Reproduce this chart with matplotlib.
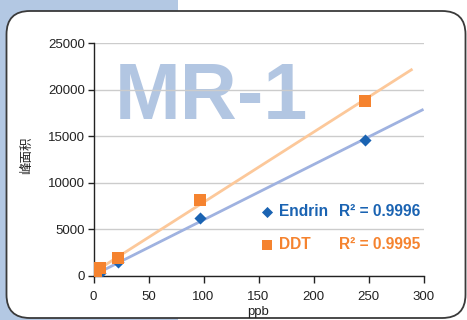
import matplotlib
matplotlib.use('Agg')
import matplotlib.pyplot as plt
import numpy as np
from matplotlib.patches import FancyBboxPatch, Rectangle

plt.rcParams['font.family'] = ['Liberation Sans', 'Noto Sans CJK SC', 'DejaVu Sans']

# data
endrin_ppb = [2.5, 6, 22.5, 97, 247]
endrin_area = [80, 350, 1450, 6200, 14600]
ddt_ppb = [2.5, 6, 22.5, 97, 247]
ddt_area = [450, 820, 1900, 8150, 18800]
endrin_r2 = 0.9996
ddt_r2 = 0.9995
xticks = [0, 50, 100, 150, 200, 250, 300]
yticks = [0, 5000, 10000, 15000, 20000, 25000]

BLUE_PT = '#1a63b2'
BLUE_LN = '#9fb2e0'
ORANGE_PT = '#f5832f'
ORANGE_LN = '#fcc89a'
BG_BLUE = '#b3c8e3'

fig = plt.figure(figsize=(4.67, 3.2), dpi=100)

# background decoration
fig.patches.append(Rectangle((0, 0), 178 / 467, 1, transform=fig.transFigure,
                             facecolor=BG_BLUE, edgecolor='none', zorder=-3))
fig.patches.append(FancyBboxPatch((6.5 / 467, 2 / 320), 459 / 467, 307 / 320,
                                  boxstyle='round,pad=0,rounding_size=0.05',
                                  mutation_aspect=467 / 320,
                                  transform=fig.transFigure, facecolor='white',
                                  edgecolor='#3a3a3a', linewidth=1.3, zorder=-2))

ax = fig.add_axes([93.5 / 467, 44 / 320, 330 / 467, 233 / 320])
ax.set_facecolor('none')

# watermark
ax.text(0.065, 0.675, 'MR-1', transform=ax.transAxes, fontsize=57, fontweight='bold',
        color='#9db6da', alpha=0.78, ha='left', va='baseline', zorder=0)

# trendlines
k1, b1 = np.polyfit(endrin_ppb, endrin_area, 1)
k2, b2 = np.polyfit(ddt_ppb, ddt_area, 1)
xl1 = np.array([0, 300])
xl2 = np.array([0, 290])
ax.plot(xl1, k1 * xl1 + b1, color=BLUE_LN, lw=2, zorder=2, solid_capstyle='butt')
ax.plot(xl2, k2 * xl2 + b2, color=ORANGE_LN, lw=2, zorder=2, solid_capstyle='butt')

ax.scatter(endrin_ppb, endrin_area, marker='D', s=38, color=BLUE_PT, zorder=3, linewidths=0)
ax.scatter(ddt_ppb, ddt_area, marker='s', s=70, color=ORANGE_PT, zorder=4, linewidths=0)

# legend-like labels
ax.scatter([157.5], [6870], marker='D', s=32, color=BLUE_PT, clip_on=False, linewidths=0)
ax.scatter([157.5], [3330], marker='s', s=60, color=ORANGE_PT, clip_on=False, linewidths=0)
ax.text(169, 6870, 'Endrin', color=BLUE_PT, fontsize=11.2, fontweight='bold', va='center')
ax.text(223, 6870, 'R\u00b2 = %.4f' % endrin_r2, color=BLUE_PT, fontsize=11.2,
        fontweight='bold', va='center')
ax.text(169, 3330, 'DDT', color=ORANGE_PT, fontsize=11.2, fontweight='bold', va='center')
ax.text(223, 3330, 'R\u00b2 = %.4f' % ddt_r2, color=ORANGE_PT, fontsize=11.2,
        fontweight='bold', va='center')

ax.set_xlim(0, 300)
ax.set_ylim(0, 25000)
ax.set_xticks(xticks)
ax.set_yticks(yticks)
ax.yaxis.grid(True, color='#cccccc', lw=1)
ax.set_axisbelow(True)
for s in ['top', 'right']:
    ax.spines[s].set_visible(False)
for s in ['left', 'bottom']:
    ax.spines[s].set_color('#222222')
    ax.spines[s].set_linewidth(1)
ax.tick_params(labelsize=9.5, colors='#222222', width=1)
ax.tick_params(axis='x', length=5, pad=6)
ax.tick_params(axis='y', length=4, pad=2)
ax.set_xlabel('ppb', fontsize=9.5, color='#222222', labelpad=2)
ax.set_ylabel('峰面积', fontsize=9, color='#222222',
              family=['Noto Sans CJK SC', 'DejaVu Sans'])
ax.yaxis.set_label_coords(-0.183, 0.52)

fig.savefig('out.png', dpi=100)
